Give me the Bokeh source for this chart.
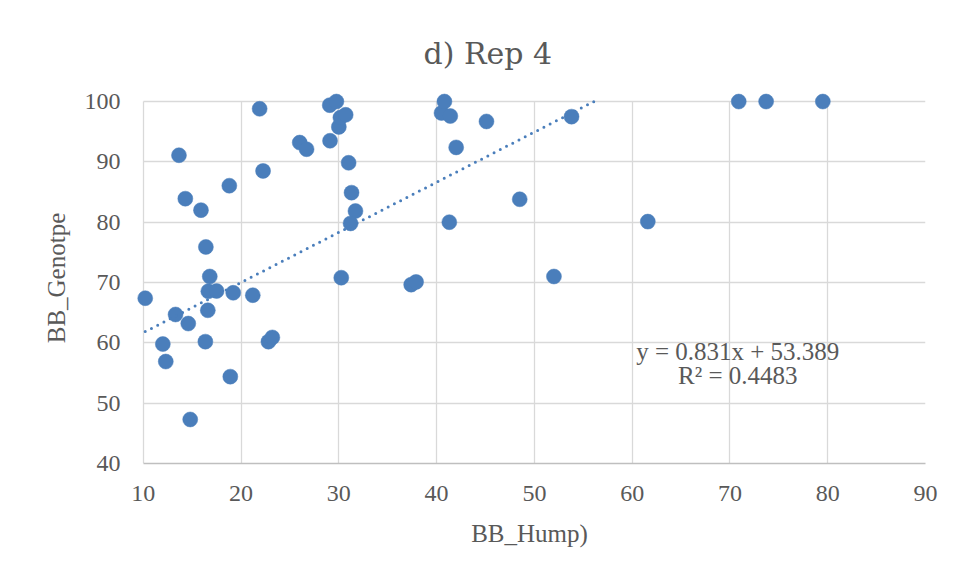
from bokeh.plotting import figure
from bokeh.models import Range1d, Label, FixedTicker
from bokeh.embed import file_html
from bokeh.resources import INLINE

# ---- data ----
bb_hump = [10.2, 12.0, 12.3, 13.3, 13.65, 14.3, 14.6, 14.8, 15.9, 16.35,
           16.4, 16.6, 16.65, 16.8, 17.5, 18.8, 18.9, 19.2, 21.2, 21.9,
           22.25, 22.8, 23.2, 26.0, 26.7, 29.1, 29.07, 29.75, 30.0, 30.16,
           30.7, 30.25, 31.0, 31.3, 31.7, 31.2, 37.4, 37.9, 40.5, 40.8,
           41.4, 42.0, 41.3, 45.1, 48.5, 52.0, 53.8, 61.6, 70.9, 73.7, 79.5]
bb_genotpe = [67.4, 59.8, 56.9, 64.7, 91.1, 83.9, 63.2, 47.3, 82.0, 60.2,
              75.9, 65.4, 68.55, 71.0, 68.6, 86.05, 54.4, 68.3, 67.9, 98.8,
              88.5, 60.2, 60.9, 93.2, 92.1, 93.5, 99.4, 100.0, 95.8, 97.35,
              97.8, 70.8, 89.85, 84.9, 81.85, 79.8, 69.65, 70.1, 98.1, 100.0,
              97.6, 92.4, 80.0, 96.7, 83.8, 71.0, 97.5, 80.1, 100.0, 100.0, 100.0]
slope = 0.831
intercept = 53.389
r_squared = 0.4483
x_ticks = [10, 20, 30, 40, 50, 60, 70, 80, 90]
y_ticks = [40, 50, 60, 70, 80, 90, 100]
title_text = "d) Rep 4"
x_title = "BB_Hump)"
y_title = "BB_Genotpe"

# ---- styling ----
BLUE = "#4A7EBB"
TXT = "#595959"
GRID = "#D9D9D9"
SERIF = "Liberation Serif"

x_lo, x_hi = x_ticks[0], x_ticks[-1]
y_lo, y_hi = y_ticks[0], y_ticks[-1]

p = figure(width=951, height=570, output_backend="svg", toolbar_location=None,
           x_range=Range1d(x_lo - 1, x_hi), y_range=Range1d(y_lo, y_hi + 1.5),
           min_border_left=133, min_border_right=26, min_border_top=92,
           min_border_bottom=107)
p.outline_line_color = None
p.background_fill_color = "white"
p.border_fill_color = "white"

# title
p.title.text = title_text
p.title.align = "left"
p.title.offset = 290
p.title.standoff = 43
p.title.text_font = "DejaVu Serif"
p.title.text_font_size = "30px"
p.title.text_font_style = "normal"
p.title.text_color = TXT

# grids
p.xgrid.ticker = FixedTicker(ticks=x_ticks)
p.ygrid.ticker = FixedTicker(ticks=y_ticks)
p.xgrid.grid_line_color = GRID
p.ygrid.grid_line_color = GRID
p.xgrid.grid_line_width = 1.3
p.ygrid.grid_line_width = 1.3
p.xgrid.cross_bounds = (y_lo, y_hi)
p.ygrid.cross_bounds = (x_lo, x_hi)

# axes
for ax in (p.xaxis[0], p.yaxis[0]):
    ax.major_tick_line_color = None
    ax.minor_tick_line_color = None
    ax.major_label_text_font = SERIF
    ax.major_label_text_font_size = "24px"
    ax.major_label_text_color = TXT
    ax.axis_label_text_font = SERIF
    ax.axis_label_text_font_size = "25px"
    ax.axis_label_text_font_style = "normal"
    ax.axis_label_text_color = TXT
    ax.major_tick_out = 0
    ax.major_tick_in = 0

p.xaxis.ticker = FixedTicker(ticks=x_ticks)
p.yaxis.ticker = FixedTicker(ticks=y_ticks)
p.xaxis.bounds = (x_lo, x_hi)
p.xaxis.axis_line_color = "#BFBFBF"
p.xaxis.axis_line_width = 1.3
p.yaxis.axis_line_color = None
p.xaxis.major_label_standoff = 22
p.yaxis.major_label_standoff = 13
p.xaxis.axis_label = x_title
p.yaxis.axis_label = y_title
p.xaxis.axis_label_standoff = 16
p.yaxis.axis_label_standoff = 12

# points
p.scatter(bb_hump, bb_genotpe, size=15, fill_color=BLUE, line_color=BLUE,
          line_width=0.5)

# linear trendline (Excel clips it at the axis maximum)
tx0 = min(bb_hump)
tx1 = min(max(bb_hump), (y_hi - intercept) / slope)
p.line([tx0, tx1], [slope * tx0 + intercept, slope * tx1 + intercept],
       line_color=BLUE, line_width=3, line_dash="0 7", line_cap="round")

# equation labels
eq_x = 70.8
p.add_layout(Label(x=eq_x, y=58.6, text=f"y = {slope}x + {intercept}",
                   text_align="center", text_baseline="middle",
                   text_font=SERIF, text_font_size="25px", text_color=TXT))
p.add_layout(Label(x=eq_x, y=54.6, text=f"R² = {r_squared}",
                   text_align="center", text_baseline="middle",
                   text_font=SERIF, text_font_size="25px", text_color=TXT))

open("out.html", "w").write(file_html(p, INLINE))
